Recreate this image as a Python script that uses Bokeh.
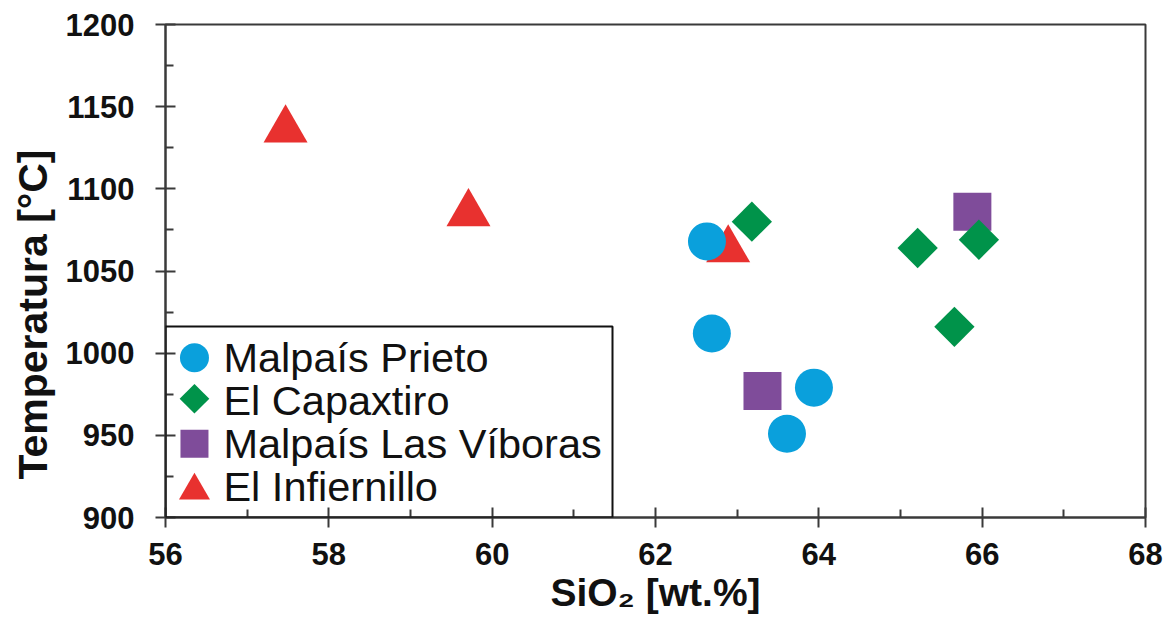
from bokeh.plotting import figure
from bokeh.models import Range1d, FixedTicker, Title, BoxAnnotation, ColumnDataSource
from bokeh.core.properties import value
from bokeh.embed import file_html
from bokeh.resources import INLINE
import math

# --- data ---
prieto_sio2 = [62.63, 62.69, 63.94, 63.61]
prieto_temp = [1068, 1012, 979, 951]
capax_sio2 = [63.18, 65.21, 65.96, 65.66]
capax_temp = [1080, 1064, 1069, 1016]
viboras_sio2 = [63.31, 65.88]
viboras_temp = [977, 1086]
infier_sio2 = [57.47, 59.71, 62.89]
infier_temp = [1136, 1085, 1063]

x_major = [56, 58, 60, 62, 64, 66, 68]
x_minor = [57, 59, 61, 63, 65, 67]
y_major = [900, 950, 1000, 1050, 1100, 1150, 1200]
y_minor = [925, 975, 1025, 1075, 1125, 1175]

legend_labels = ["Malpaís Prieto", "El Capaxtiro", "Malpaís Las Víboras", "El Infiernillo"]

# --- styles ---
FONT = "Liberation Sans"
AXIS_COLOR = "#3a3a3a"
TEXT_COLOR = "#111111"
C_PRIETO = "#0AA0DC"
C_CAPAX = "#00934A"
C_VIB = "#7F4C9A"
C_INF = "#E8312F"

FRAME_W, FRAME_H = 981, 494

p = figure(width=1165, height=616, output_backend="svg", toolbar_location=None,
           x_range=Range1d(56, 68), y_range=Range1d(900, 1200),
           min_border_left=164, min_border_top=24, min_border_right=20, min_border_bottom=98)
p.grid.visible = False
p.outline_line_color = AXIS_COLOR
p.outline_line_width = 2
p.background_fill_color = "white"
p.border_fill_color = "white"

# pixel-based helper ranges for the legend block (origin at frame top-left)
p.extra_x_ranges = {"px": Range1d(0, FRAME_W)}
p.extra_y_ranges = {"px": Range1d(FRAME_H, 0)}

p.xaxis.ticker = FixedTicker(ticks=x_major, minor_ticks=x_minor)
p.yaxis.ticker = FixedTicker(ticks=y_major, minor_ticks=y_minor)

for ax in (p.xaxis[0], p.yaxis[0]):
    ax.axis_line_color = AXIS_COLOR
    ax.axis_line_width = 2
    ax.major_tick_line_color = AXIS_COLOR
    ax.major_tick_line_width = 2
    ax.minor_tick_line_color = AXIS_COLOR
    ax.minor_tick_line_width = 2
    ax.major_tick_in = 10
    ax.major_tick_out = 10
    ax.minor_tick_in = 8
    ax.minor_tick_out = 0
    ax.major_label_text_font = FONT
    ax.major_label_text_font_style = "bold"
    ax.major_label_text_font_size = "31px"
    ax.major_label_text_color = TEXT_COLOR

p.xaxis.major_label_standoff = 15
p.yaxis.major_label_standoff = 21
p.xaxis.axis_label = "SiO₂ [wt.%]"
p.xaxis.axis_label_text_font = FONT
p.xaxis.axis_label_text_font_style = "bold"
p.xaxis.axis_label_text_font_size = "39px"
p.xaxis.axis_label_text_color = TEXT_COLOR
p.xaxis.axis_label_standoff = 3

ytitle = Title(text="Temperatura [°C]", align="left", offset=38, standoff=14,
               text_font=FONT, text_font_style="bold", text_font_size="41px",
               text_color=TEXT_COLOR)
p.add_layout(ytitle, "left")

# --- data marks ---
p.scatter(infier_sio2, infier_temp, marker="triangle", size=44,
          fill_color=C_INF, line_color=None)
p.scatter(viboras_sio2, viboras_temp, marker="square", size=38,
          fill_color=C_VIB, line_color=None)
p.scatter(prieto_sio2, prieto_temp, marker="circle", size=38,
          fill_color=C_PRIETO, line_color=None)
p.scatter(capax_sio2, capax_temp, marker="square", size=28.5, angle=math.pi / 4,
          fill_color=C_CAPAX, line_color=None)

# --- legend block ---
rows = list(range(len(legend_labels)))
row_y = [334 + 43 * i for i in rows]
leg_src = ColumnDataSource(dict(
    x=[29] * len(rows), tx=[58] * len(rows), y=row_y,
    y_mark=[row_y[0], row_y[1] - 2, row_y[2], row_y[3] + 4],
    label=legend_labels,
    marker=["circle", "square", "square", "triangle"],
    angle=[0, math.pi / 4, 0, 0],
    size=[29, 21, 28, 31],
    color=[C_PRIETO, C_CAPAX, C_VIB, C_INF],
))
p.scatter(x="x", y="y_mark", marker="marker", size="size", angle="angle",
          fill_color="color", line_color=None, source=leg_src,
          x_range_name="px", y_range_name="px")
p.text(x="tx", y="y", text="label", source=leg_src, text_baseline="middle",
       text_align="left", text_font=value(FONT), text_font_size="41.5px",
       text_color=TEXT_COLOR, x_range_name="px", y_range_name="px")
p.add_layout(BoxAnnotation(left=0, right=447, bottom=0, top=191,
                           left_units="screen", right_units="screen",
                           bottom_units="screen", top_units="screen",
                           fill_alpha=0, line_alpha=1, line_color=TEXT_COLOR, line_width=2))

open("out.html", "w").write(file_html(p, INLINE))
